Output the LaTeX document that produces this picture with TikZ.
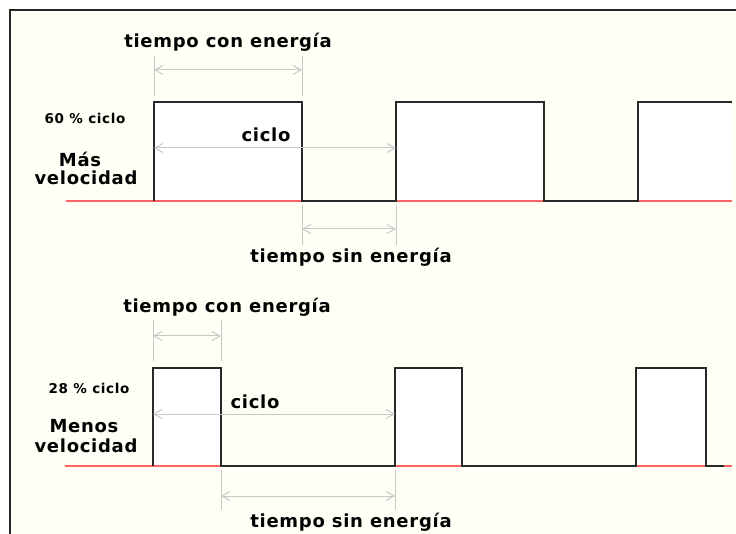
\documentclass[tikz,border=0pt]{standalone}
\usepackage{fontspec}
\setmainfont{DejaVu Sans}
\newfontfamily\lblfont[LetterSpace=4]{DejaVu Sans}
\newfontfamily\smallfont[LetterSpace=5]{DejaVu Sans}
\usetikzlibrary{arrows.meta}
\definecolor{bg}{RGB}{255,255,246}
\definecolor{dim}{RGB}{200,200,200}
\definecolor{wavec}{RGB}{40,40,40}
\definecolor{basec}{RGB}{255,100,100}
\tikzset{
 lbl/.style={font=\lblfont\bfseries\fontsize{18}{20}\selectfont, anchor=base, inner sep=0pt},
 smalllbl/.style={font=\smallfont\bfseries\fontsize{13.5}{15}\selectfont, anchor=base, inner sep=0pt},
 dimline/.style={draw=dim, line width=1pt},
 dimarrow/.style={draw=dim, line width=1pt, {Straight Barb[length=8pt,width=9pt]}-{Straight Barb[length=8pt,width=9pt]}},
 wavepath/.style={draw=wavec, line width=1.6pt, line join=miter},
 redline/.style={draw=basec, line width=1.6pt},
}
\begin{document}
\begin{tikzpicture}[x=1pt,y=-1pt]
\useasboundingbox (0,0) rectangle (736,534);
\fill[white] (0,0) rectangle (736,534);
\fill[bg] (10,10) rectangle (736,534);
\draw[line width=1.5pt, black!85] (10,534) -- (10,10) -- (736,10);

% ---------- top panel ----------
\fill[white] (154,102) rectangle (302,201);
\fill[white] (396,102) rectangle (544,201);
\fill[white] (638,102) rectangle (732,201);
\draw[redline] (66,201) -- (732,201);
\draw[wavepath] (154,201) -- (154,102) -- (302,102) -- (302,201) -- (396,201) -- (396,102) -- (544,102) -- (544,201) -- (638,201) -- (638,102) -- (732,102);

\coordinate (t1a) at (154,56); \coordinate (t1b) at (154,96);
\coordinate (t2a) at (302,56); \coordinate (t2b) at (302,96);
\coordinate (ta) at (154,70); \coordinate (tb) at (302,70);
\draw[dimline] (t1a) -- (t1b);
\draw[dimline] (t2a) -- (t2b);
\draw[dimarrow] (ta) -- (tb);

\coordinate (ca) at (154,148); \coordinate (cb) at (396,148);
\draw[dimarrow] (ca) -- (cb);

\coordinate (s1a) at (302,205); \coordinate (s1b) at (302,245);
\coordinate (s2a) at (396,205); \coordinate (s2b) at (396,245);
\coordinate (sa) at (302,229); \coordinate (sb) at (396,229);
\draw[dimline] (s1a) -- (s1b);
\draw[dimline] (s2a) -- (s2b);
\draw[dimarrow] (sa) -- (sb);

\node[lbl] (tce1) at (228,47.5) {tiempo con energía};
\node[lbl] (cic1) at (266,142) {ciclo};
\node[smalllbl] (pct1) at (85,123.5) {60 \% ciclo};
\node[lbl] (mas) at (80,167) {Más};
\node[lbl] (vel1) at (86,185) {velocidad};
\node[lbl] (tse1) at (351,263) {tiempo sin energía};

% ---------- bottom panel ----------
\fill[white] (153,368) rectangle (221,466);
\fill[white] (395,368) rectangle (462,466);
\fill[white] (636,368) rectangle (706,466);
\draw[redline] (65,466) -- (732,466);
\draw[wavepath] (153,466) -- (153,368) -- (221,368) -- (221,466) -- (395,466) -- (395,368) -- (462,368) -- (462,466) -- (636,466) -- (636,368) -- (706,368) -- (706,466) -- (724,466);

\coordinate (u1a) at (153,320); \coordinate (u1b) at (153,361);
\coordinate (u2a) at (221,320); \coordinate (u2b) at (221,361);
\coordinate (ua) at (153,336); \coordinate (ub) at (221,336);
\draw[dimline] (u1a) -- (u1b);
\draw[dimline] (u2a) -- (u2b);
\draw[dimarrow] (ua) -- (ub);

\coordinate (da) at (153,414); \coordinate (db) at (395,414);
\draw[dimarrow] (da) -- (db);

\coordinate (v1a) at (221,470); \coordinate (v1b) at (221,510);
\coordinate (v2a) at (395,470); \coordinate (v2b) at (395,510);
\coordinate (va) at (221,496); \coordinate (vb) at (395,496);
\draw[dimline] (v1a) -- (v1b);
\draw[dimline] (v2a) -- (v2b);
\draw[dimarrow] (va) -- (vb);

\node[lbl] (tce2) at (227,313) {tiempo con energía};
\node[smalllbl] (pct2) at (89,393) {28 \% ciclo};
\node[lbl] (cic2) at (255,408) {ciclo};
\node[lbl] (menos) at (84,432) {Menos};
\node[lbl] (vel2) at (86,452) {velocidad};
\node[lbl] (tse2) at (351,527) {tiempo sin energía};
\end{tikzpicture}
\end{document}
